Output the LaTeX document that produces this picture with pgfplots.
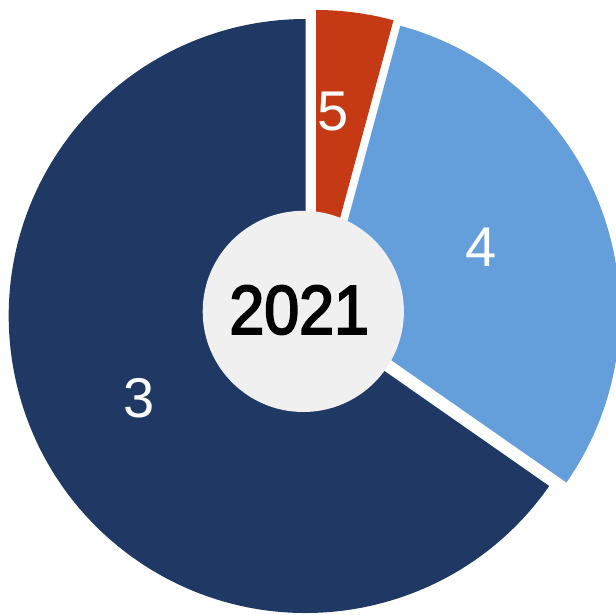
\documentclass[border=0pt]{standalone}
\usepackage{pgfplots}
\pgfplotsset{compat=1.18}
\usepackage{pgfplotstable}
\usepackage{fontspec}
\setmainfont{Liberation Sans}
\newfontfamily\yearfamily[FakeBold=3]{Liberation Sans}
\definecolor{cnavy}{HTML}{1F3864}
\definecolor{cblue}{HTML}{649FDC}
\definecolor{cred}{HTML}{C53A14}
\definecolor{cinner}{HTML}{F0F0F0}

% value = share in percent; dx,dy = offset of the slice apex; lx,ly = label position
\pgfplotstableread{
label value dx dy lx ly color
5 4.2 12.7 4.4 29.7 200.1 cred
4 30.5 19.6 -1.1 177.5 63.9 cblue
3 65.3 2.4 -4.6 -164.6 -86.6 cnavy
}\piedata

\newcommand\labfont{\fontsize{56}{60}\selectfont}
\newcommand\yearfont{\fontsize{69}{74}\yearfamily}

\begin{document}
\begin{tikzpicture}
\pgfmathsetmacro{\curang}{90}
\pgfplotsforeachungrouped \i in {0,1,2}{%
  \pgfplotstablegetelem{\i}{value}\of\piedata
  \pgfmathsetmacro{\sweep}{3.6*\pgfplotsretval}%
  \expandafter\let\csname sa\i\endcsname\curang
  \pgfmathsetmacro{\curang}{\curang-\sweep}%
  \expandafter\let\csname ea\i\endcsname\curang
  \pgfplotstablegetelem{\i}{dx}\of\piedata
  \expandafter\let\csname dx\i\endcsname\pgfplotsretval
  \pgfplotstablegetelem{\i}{dy}\of\piedata
  \expandafter\let\csname dy\i\endcsname\pgfplotsretval
  \pgfplotstablegetelem{\i}{lx}\of\piedata
  \expandafter\let\csname lx\i\endcsname\pgfplotsretval
  \pgfplotstablegetelem{\i}{ly}\of\piedata
  \expandafter\let\csname ly\i\endcsname\pgfplotsretval
  \pgfplotstablegetelem{\i}{color}\of\piedata
  \expandafter\let\csname col\i\endcsname\pgfplotsretval
  \pgfplotstablegetelem{\i}{label}\of\piedata
  \expandafter\let\csname lab\i\endcsname\pgfplotsretval
}
\begin{axis}[
  x=1pt, y=1pt,
  xmin=-303.3, xmax=312.7, ymin=-302.6, ymax=311.4,
  hide axis,
  clip=true,
  clip bounding box=upper bound,
]
\path (axis cs:-303.3,-302.6) rectangle (axis cs:312.7,311.4);
\pgfplotsinvokeforeach{0,1,2}{%
  \edef\cmd{\noexpand\fill[\csname col#1\endcsname]
    (axis cs:\csname dx#1\endcsname,\csname dy#1\endcsname)
    -- ++(\csname sa#1\endcsname:297pt)
    arc[start angle=\csname sa#1\endcsname, end angle=\csname ea#1\endcsname, radius=297pt]
    -- cycle;}%
  \cmd
}
\fill[cinner] (axis cs:0,0) circle[radius=100.6pt];
\pgfplotsinvokeforeach{0,1,2}{%
  \edef\cmd{\noexpand\node[text=white, inner sep=0pt, anchor=center, font=\noexpand\labfont]
    at (axis cs:\csname lx#1\endcsname,\csname ly#1\endcsname) {\csname lab#1\endcsname};}%
  \cmd
}
\node[text=black, inner sep=0pt, anchor=center, font=\yearfont] at (axis cs:-4.1,1.4) {\scalebox{0.91}[1]{2021}};
\end{axis}
\end{tikzpicture}
\end{document}
